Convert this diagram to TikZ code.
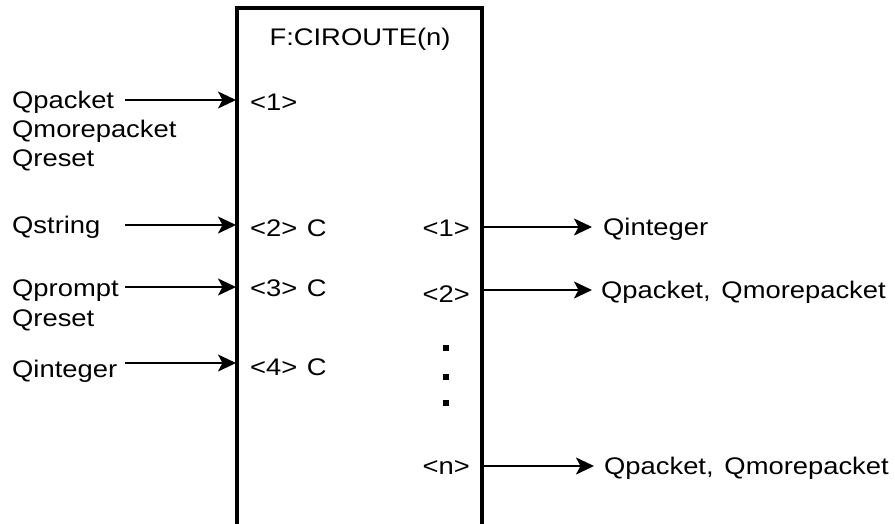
\documentclass[tikz,border=0pt]{standalone}
\usepackage{fontspec}
\setmainfont{Liberation Sans}[FakeStretch=1.14]
\usetikzlibrary{arrows.meta}
\begin{document}
\begin{tikzpicture}[x=1pt,y=-1pt,
  lbl/.style={font=\fontsize{24}{28}\selectfont, inner sep=0pt},
  lft/.style={lbl, anchor=base west},
  arr/.style={line width=2.2pt, -{Stealth[length=18pt,width=17pt,inset=4.5pt]}},
  boxline/.style={line width=3.8pt},
  dotsq/.style={fill=black},
  ]
\useasboundingbox (0,0) rectangle (895,523);
% box (open at bottom)
\coordinate (bl) at (237,530);
\coordinate (tl) at (237,8);
\coordinate (tr) at (482,8);
\coordinate (br) at (482,530);
\draw[boxline] (bl) -- (tl) -- (tr) -- (br);
\node[lbl] (title) at (360,39) {F:CIROUTE(n)};

% left inputs
\node[lft] (qpacket) at (12,108) {Qpacket};
\node[lft] (qmore) at (12,137) {Qmorepacket};
\node[lft] (qreset1) at (12,166) {Qreset};
\node[lft] (qstring) at (12,233) {Qstring};
\node[lft] (qprompt) at (12,296) {Qprompt};
\node[lft] (qreset2) at (12,326) {Qreset};
\node[lft] (qinteger) at (12,377) {Qinteger};

\coordinate (s1) at (125,100);
\coordinate (s2) at (125,225);
\coordinate (s3) at (125,287);
\coordinate (s4) at (125,363);
\coordinate (i1) at (236,100);
\coordinate (i2) at (236,225);
\coordinate (i3) at (236,287);
\coordinate (i4) at (236,363);
\draw[arr] (s1) -- (i1);
\draw[arr] (s2) -- (i2);
\draw[arr] (s3) -- (i3);
\draw[arr] (s4) -- (i4);

\node[lbl, anchor=west] (p1) at (250,102) {<1>};
\node[lbl, anchor=west] (p2) at (250,228) {<2>\hspace{0.4em}C};
\node[lbl, anchor=west] (p3) at (250,288) {<3>\hspace{0.4em}C};
\node[lbl, anchor=west] (p4) at (250,367) {<4>\hspace{0.4em}C};

% right outputs
\node[lbl, anchor=east] (o1) at (470,228) {<1>};
\node[lbl, anchor=east] (o2) at (470,294) {<2>};
\node[lbl, anchor=east] (on) at (470,467) {<n>};

\coordinate (e1) at (483,227);
\coordinate (e2) at (483,290);
\coordinate (en) at (483,466);
\coordinate (t1) at (592,227);
\coordinate (t2) at (592,290);
\coordinate (tn) at (594,466);
\draw[arr] (e1) -- (t1);
\draw[arr] (e2) -- (t2);
\draw[arr] (en) -- (tn);

\node[lbl, anchor=west] (r1) at (603,229) {Qinteger};
\node[lbl, anchor=west] (r2) at (601,292) {Qpacket,\hspace{0.45em}Qmorepacket};
\node[lbl, anchor=west] (rn) at (604,468) {Qpacket,\hspace{0.45em}Qmorepacket};

% vertical dots
\fill[dotsq] (443,345) rectangle (449,351);
\fill[dotsq] (443,374) rectangle (449,380);
\fill[dotsq] (443,400) rectangle (449,406);
\end{tikzpicture}
\end{document}
